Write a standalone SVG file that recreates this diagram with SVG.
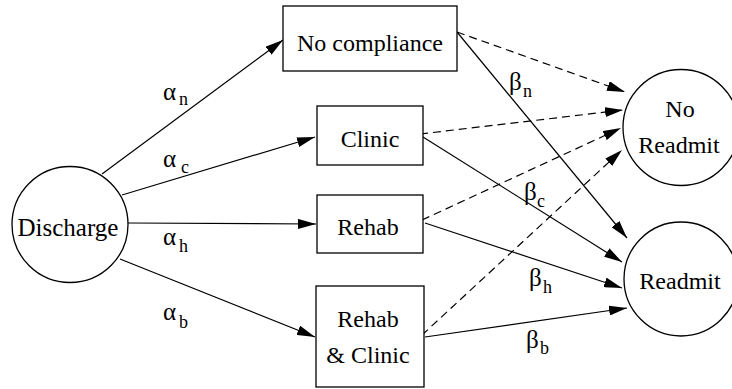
<svg xmlns="http://www.w3.org/2000/svg" width="732" height="389" viewBox="0 0 732 389" font-family="'Times New Roman', Times, 'Liberation Serif', 'Noto Serif', 'DejaVu Serif', FreeSerif, serif">
  <style>
    .node { fill: #fff; stroke: #000; stroke-width: 1.3; }
    .lbl { font-size: 24px; text-anchor: middle; fill: #000; }
    .greek { font-size: 25px; fill: #000; }
    .sub { font-size: 18px; fill: #000; }
    .edge { fill: none; stroke: #000; stroke-width: 1.2; marker-end: url(#arrow); }
    .dash { stroke-dasharray: 8 5; }
  </style>
  <defs>
    <marker id="arrow" viewBox="0 0 18 10" refX="18" refY="5" markerWidth="18" markerHeight="10" markerUnits="userSpaceOnUse" orient="auto">
      <path d="M0,0 L18,5 L0,10 z" fill="#000"/>
    </marker>
  </defs>
  <rect width="732" height="389" fill="#fff"/>

  <!-- connectors -->
  <g id="connectors">
    <line class="edge" x1="102" y1="174" x2="283" y2="40"/>
    <line class="edge" x1="122" y1="195" x2="315" y2="137"/>
    <line class="edge" x1="128" y1="223" x2="316" y2="224"/>
    <line class="edge" x1="120" y1="259" x2="315" y2="337"/>

    <line class="edge dash" x1="457" y1="32" x2="625" y2="92"/>
    <line class="edge" x1="457" y1="32" x2="627" y2="238"/>
    <line class="edge dash" x1="420" y1="134" x2="623" y2="110"/>
    <line class="edge" x1="423" y1="137" x2="622" y2="262"/>
    <line class="edge dash" x1="422" y1="220" x2="621" y2="128"/>
    <line class="edge" x1="425" y1="223" x2="622" y2="288"/>
    <line class="edge dash" x1="422" y1="335" x2="622" y2="150"/>
    <line class="edge" x1="425" y1="337" x2="627" y2="308"/>

    <!-- edge labels -->
    <text class="greek" x="163" y="100">α</text><text class="sub" x="179" y="105">n</text>
    <text class="greek" x="163" y="167">α</text><text class="sub" x="181" y="173">c</text>
    <text class="greek" x="163" y="245">α</text><text class="sub" x="179" y="252">h</text>
    <text class="greek" x="163" y="320">α</text><text class="sub" x="179" y="328">b</text>

    <text class="greek" x="509" y="90">β</text><text class="sub" x="523" y="97">n</text>
    <text class="greek" x="524" y="200">β</text><text class="sub" x="537" y="207">c</text>
    <text class="greek" x="529" y="286">β</text><text class="sub" x="543" y="293">h</text>
    <text class="greek" x="526" y="348">β</text><text class="sub" x="540" y="354">b</text>
  </g>

  <g id="discharge">
    <circle class="node" cx="70" cy="224.5" r="58"/>
    <text class="lbl" x="68" y="236" style="font-size:25px">Discharge</text>
  </g>
  <g id="no-compliance">
    <rect class="node" x="283" y="6" width="174" height="65"/>
    <text class="lbl" x="370" y="51">No compliance</text>
  </g>
  <g id="clinic">
    <rect class="node" x="317" y="106" width="106" height="59"/>
    <text class="lbl" x="370" y="147">Clinic</text>
  </g>
  <g id="rehab">
    <rect class="node" x="317" y="195" width="106" height="58"/>
    <text class="lbl" x="368" y="235">Rehab</text>
  </g>
  <g id="rehab-clinic">
    <rect class="node" x="316" y="286" width="108" height="101"/>
    <text class="lbl" x="368" y="327">Rehab</text>
    <text class="lbl" x="368" y="363">&amp; Clinic</text>
  </g>
  <g id="no-readmit">
    <circle class="node" cx="681" cy="127.5" r="58"/>
    <text class="lbl" x="680" y="117">No</text>
    <text class="lbl" x="679" y="153">Readmit</text>
  </g>
  <g id="readmit">
    <circle class="node" cx="681" cy="279" r="57"/>
    <text class="lbl" x="680" y="289">Readmit</text>
  </g>
</svg>
